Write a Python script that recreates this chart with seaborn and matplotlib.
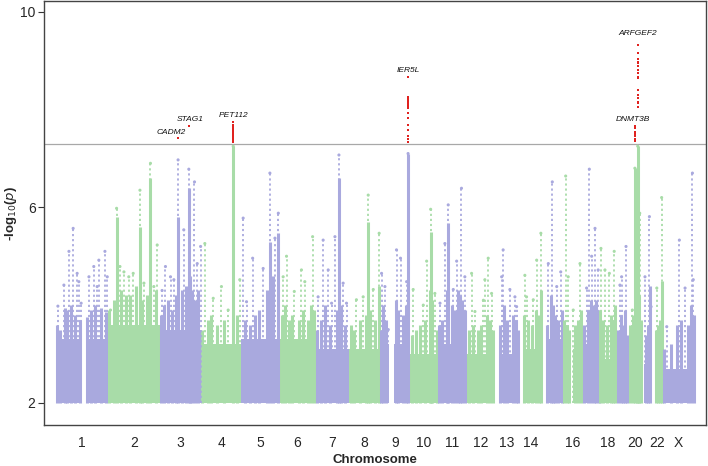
import numpy as np
import pandas as pd
import matplotlib
matplotlib.use("Agg")
import matplotlib.pyplot as plt
import seaborn as sns

# ---------------- data ----------------
chroms = [str(i) for i in range(1, 23)] + ["X"]
chrom_len_mb = [249.3, 243.2, 198.0, 191.2, 180.9, 171.1, 159.1, 146.4, 141.2, 135.5,
                135.0, 133.9, 115.2, 107.4, 102.5, 90.4, 81.2, 78.1, 59.1, 63.0,
                48.1, 51.3, 155.3]
data_start_mb = [0, 0, 0, 0, 0, 0, 0, 0, 0, 0, 0, 0, 19, 19, 20, 0, 0, 0, 0, 0, 14, 16, 0]
# dense background level (-log10 p) per chromosome
base_level = [3.3, 3.6, 3.5, 3.2, 3.3, 3.3, 3.1, 3.1, 3.2, 3.0, 3.2, 3.0, 3.0, 3.1,
              3.3, 3.1, 3.2, 2.9, 3.0, 3.2, 2.8, 2.8, 2.7]
gap_chrom = ["1", "9", "16"]
gap_start_mb = [123, 44, 36]
gap_end_mb = [147, 67, 46]

# dense stripes (upper edge of the solid SNP mass), per chromosome
dense_pos = [
    [5, 20, 45, 55, 70, 90, 115, 150, 165, 185, 215, 240],
    [5, 25, 39, 60, 85, 105, 130, 150, 160, 185, 200, 225],
    [5, 20, 40, 60, 80, 88, 105, 125, 139, 145, 155, 170, 185],
    [5, 30, 45, 75, 110, 152, 170],
    [15, 40, 65, 85, 120, 135, 150, 175],
    [10, 25, 45, 60, 90, 110, 135, 150, 165],
    [5, 25, 45, 70, 100, 111, 120, 140],
    [10, 25, 50, 80, 91, 100, 125, 140],
    [5, 15, 30, 75, 85, 110, 125, 134],
    [10, 30, 50, 75, 95, 100, 105, 130],
    [5, 20, 40, 48, 65, 80, 95, 105, 115, 130],
    [10, 30, 55, 70, 95, 110, 125],
    [25, 45, 60, 85, 100, 110],
    [25, 45, 60, 80, 95, 104],
    [25, 45, 55, 65, 80, 95],
    [5, 18, 30, 55, 70, 85],
    [10, 28, 40, 55, 65, 78],
    [5, 20, 35, 55, 65, 75],
    [10, 25, 35, 45, 55],
    [10, 25, 32, 40, 45.6, 50, 60],
    [20, 30, 40],
    [20, 30, 40, 50],
    [10, 40, 70, 90, 120, 135, 150],
]
dense_top = [
    [3.6, 3.5, 3.95, 3.9, 4.0, 3.8, 3.7, 3.75, 3.9, 4.0, 3.95, 3.85],
    [3.9, 4.1, 5.8, 4.3, 4.2, 4.2, 4.4, 5.6, 4.1, 4.2, 6.6, 4.3],
    [3.8, 4.0, 4.1, 3.9, 4.2, 5.8, 4.3, 4.4, 6.4, 4.6, 4.3, 4.1, 4.3],
    [3.5, 3.7, 3.8, 3.6, 3.7, 7.25, 3.8],
    [3.7, 3.6, 3.8, 3.9, 4.3, 5.3, 4.6, 5.47],
    [3.8, 4.0, 3.7, 3.8, 3.7, 3.9, 3.7, 4.0, 3.9],
    [3.5, 3.7, 4.0, 3.6, 3.9, 6.6, 4.0, 3.6],
    [3.6, 3.5, 3.7, 3.8, 5.7, 3.9, 3.7, 4.4],
    [3.5, 4.0, 3.7, 4.1, 3.9, 3.8, 4.0, 7.1],
    [3.4, 3.5, 3.6, 3.7, 4.3, 5.5, 4.1, 3.5],
    [3.6, 3.7, 4.3, 5.67, 4.0, 3.9, 4.3, 4.2, 4.1, 3.9],
    [3.5, 3.6, 3.5, 3.6, 3.8, 3.7, 3.5],
    [3.6, 4.0, 3.7, 3.8, 3.7, 3.5],
    [3.8, 3.7, 3.6, 3.9, 3.8, 4.3],
    [3.6, 4.2, 4.0, 3.8, 3.7, 3.9],
    [3.7, 3.6, 3.5, 3.6, 3.7, 3.9],
    [3.6, 3.9, 4.1, 4.0, 4.1, 3.9],
    [3.9, 3.7, 3.6, 3.8, 3.7, 4.0],
    [3.5, 3.8, 3.6, 3.9, 3.4],
    [3.6, 3.8, 6.8, 4.0, 7.25, 4.2, 3.7],
    [3.4, 3.6, 4.4],
    [3.5, 3.6, 3.7, 4.5],
    [3.1, 3.2, 3.6, 3.7, 3.6, 4.0, 3.8],
]

# sparse stripe peaks (chromosome, position Mb, -log10 p)
col_chrom = (["1"] * 13 + ["2"] * 11 + ["3"] * 10 + ["4"] * 6 + ["5"] * 7 + ["6"] * 6 +
             ["7"] * 8 + ["8"] * 5 + ["9"] * 7 + ["10"] * 5 + ["11"] * 7 + ["12"] * 6 +
             ["13"] * 5 + ["14"] * 5 + ["15"] * 4 + ["16"] * 4 + ["17"] * 5 + ["18"] * 4 +
             ["19"] * 3 + ["20"] * 4 + ["21"] * 3 + ["22"] * 2 + ["X"] * 5)
col_pos = [9.5, 38, 62, 82, 101, 109, 120, 157, 180, 196, 204, 233, 244,
           10, 39, 55, 74, 97, 118, 150, 169, 200, 216, 232,
           12, 28, 52, 68, 88, 115, 139, 166, 179, 195,
           17, 57, 96, 128, 152, 183,
           8, 24, 53, 103, 135, 159, 175,
           17, 33, 70, 104, 120, 157,
           12, 36, 60, 76, 92, 111, 131, 147,
           35, 67, 91, 115, 143,
           8, 24, 40, 79, 98, 127, 134,
           17, 65, 81, 100, 120,
           9, 32, 48, 72, 88, 111, 127,
           24, 40, 80, 87, 103, 119,
           33, 40, 72, 96, 104,
           28, 36, 68, 84, 104,
           32, 51, 72, 91,
           12, 24, 48, 80,
           21, 34, 45, 61, 76,
           8, 27, 48, 71,
           20, 28, 49,
           20, 32, 45.6, 55,
           17, 38, 46,
           25, 48,
           21, 81, 108, 143, 147]
col_peak = [3.98, 4.41, 5.10, 5.57, 4.65, 4.48, 4.04, 4.58, 4.79, 4.38, 4.92, 5.10, 4.58,
            3.90, 5.98, 4.79, 4.68, 4.58, 4.65, 6.35, 4.45, 6.90, 4.38, 5.23,
            4.30, 4.79, 4.58, 4.52, 6.97, 5.54, 6.78, 6.52, 4.85, 5.20,
            5.26, 4.14, 4.38, 3.90, 7.25, 4.52,
            5.78, 4.07, 4.96, 4.75, 6.70, 5.37, 5.88,
            4.58, 5.00, 4.28, 4.72, 4.48, 5.40,
            4.17, 5.33, 4.72, 4.04, 5.40, 7.07, 4.45, 4.04,
            4.11, 4.17, 6.25, 4.32, 5.47,
            4.65, 4.38, 3.50, 5.13, 4.96, 4.48, 7.10,
            4.32, 4.00, 4.90, 5.96, 4.24,
            4.04, 5.26, 6.05, 4.32, 4.90, 6.39, 4.58,
            4.65, 3.87, 4.10, 4.52, 4.96, 4.24,
            4.58, 5.13, 4.32, 4.17, 3.97,
            4.61, 4.17, 4.11, 4.92, 5.47,
            4.85, 6.52, 4.38, 4.68,
            6.64, 4.58, 3.90, 4.85,
            4.35, 6.78, 5.00, 5.57, 4.72,
            5.16, 4.72, 4.65, 5.10,
            4.41, 4.58, 5.20,
            3.90, 6.80, 7.25, 5.88,
            4.58, 5.81, 3.97,
            4.35, 6.20,
            3.56, 5.33, 4.35, 6.70, 4.52]

# genome-wide significant SNPs
sig_chrom = (["3"] * 2 + ["4"] * 12 + ["9"] * 17 + ["20"] * 16 + ["20"] * 12)
sig_pos = ([87, 139] + [152] * 12 + [134] * 17 + [45.6] * 16 +
           [31.3, 31.3, 30.8, 30.8, 30.8, 30.8, 30.8, 32.2, 32.2, 32.2, 32.2, 32.2])
sig_p = ([7.42, 7.66] +
         [7.75, 7.69, 7.66, 7.62, 7.58, 7.55, 7.51, 7.47, 7.44, 7.40, 7.37, 7.33] +
         [8.67, 8.26, 8.23, 8.20, 8.17, 8.14, 8.11, 8.08, 8.05, 8.03, 7.92, 7.82, 7.69,
          7.59, 7.46, 7.40, 7.33] +
         [9.32, 9.15, 9.03, 8.98, 8.95, 8.88, 8.81, 8.74, 8.67, 8.64, 8.40, 8.30, 8.23,
          8.16, 8.13, 8.06] +
         [7.66, 7.62, 7.55, 7.50, 7.45, 7.40, 7.35, 7.55, 7.50, 7.45, 7.40, 7.35])

genes = ["CADM2", "STAG1", "PET112", "IER5L", "ARFGEF2", "DNMT3B"]
gene_chrom = ["3", "3", "4", "9", "20", "20"]
gene_pos = [87, 139, 152, 134, 45.6, 31.3]
gene_p = [7.42, 7.66, 7.75, 8.67, 9.32, 7.66]

threshold = 7.3

# ---------------- layout helpers ----------------
offsets = dict(zip(chroms, np.concatenate([[0], np.cumsum(chrom_len_mb)[:-1]])))
centers = [offsets[c] + l / 2 for c, l in zip(chroms, chrom_len_mb)]
lav = "#A9A9DE"
grn = "#A8DCA8"
colors = {c: (lav if i % 2 == 0 else grn) for i, c in enumerate(chroms)}

sns.set_theme(style="white")
plt.rcParams["font.family"] = ["Liberation Sans", "DejaVu Sans"]

fig = plt.figure(figsize=(7.08, 4.66), dpi=100)
ax = fig.add_axes([0.062, 0.088, 0.935, 0.910])

# dense background per chromosome
for c, l, s, b in zip(chroms, chrom_len_mb, data_start_mb, base_level):
    segs = [(s, l)]
    if c in gap_chrom:
        k = gap_chrom.index(c)
        segs = [(s, gap_start_mb[k]), (gap_end_mb[k], l)]
    for a, e in segs:
        ax.bar(offsets[c] + a, b - 2, width=e - a, bottom=2, align="edge",
               color=colors[c], linewidth=0)

# dense stripes
for c, ps, ts in zip(chroms, dense_pos, dense_top):
    xs = [offsets[c] + p for p in ps]
    ax.vlines(xs, 2, ts, colors=colors[c], linewidth=2.2)

# sparse stripes (dotted) and their top SNPs
df = pd.DataFrame({"chrom": col_chrom, "pos": col_pos, "p": col_peak})
df["x"] = [offsets[c] + p for c, p in zip(df["chrom"], df["pos"])]
df["col"] = [colors[c] for c in df["chrom"]]
ax.vlines(df["x"], 2, df["p"], colors=df["col"], linewidth=1.3,
          linestyles=[(0, (1.2, 1.6))])
sns.scatterplot(data=df, x="x", y="p", hue="chrom",
                palette={c: colors[c] for c in chroms}, s=5, linewidth=0,
                legend=False, ax=ax)

# significant hits
sig = pd.DataFrame({"chrom": sig_chrom, "pos": sig_pos, "p": sig_p})
sig["x"] = [offsets[c] + p for c, p in zip(sig["chrom"], sig["pos"])]
sns.scatterplot(data=sig, x="x", y="p", color="#E0221F", s=4, linewidth=0,
                marker="s", legend=False, ax=ax)

ax.axhline(threshold, color="#A8A8A8", linewidth=0.9, zorder=0.5)

# gene labels
label_off = {"CADM2": (-5, 1), "STAG1": (1, 2), "PET112": (0, 2),
             "IER5L": (0, 2), "ARFGEF2": (0, 6), "DNMT3B": (-1, 2)}
for g, c, p, v in zip(genes, gene_chrom, gene_pos, gene_p):
    ax.annotate(g, (offsets[c] + p, v), xytext=label_off[g], textcoords="offset points",
                ha="center", va="bottom", fontsize=6, style="italic", color="#111111")

# axes
ax.set_xlim(-57, 3088)
ax.set_ylim(1.55, 10.22)
show = ["1", "2", "3", "4", "5", "6", "7", "8", "9", "10", "11", "12", "13", "14",
        "16", "18", "20", "22", "X"]
ax.set_xticks([centers[chroms.index(c)] for c in show])
ax.set_xticklabels(show, fontsize=10)
ax.set_yticks([2, 6, 10])
ax.set_yticklabels(["2", "6", "10"], fontsize=10)
ax.tick_params(axis="y", which="both", left=True, length=4, width=0.8, color="#333333", pad=2)
ax.tick_params(axis="x", bottom=False, pad=2)
for s in ax.spines.values():
    s.set_color("#444444")
    s.set_linewidth(1.0)
ax.set_xlabel("Chromosome", fontsize=9.5, fontweight="bold", labelpad=3)
ax.set_ylabel(r"-log$_{10}$($\it{p}$)", fontsize=9.5, fontweight="bold")
ax.yaxis.set_label_coords(-0.038, 0.5)

fig.savefig("out.png", dpi=100)
